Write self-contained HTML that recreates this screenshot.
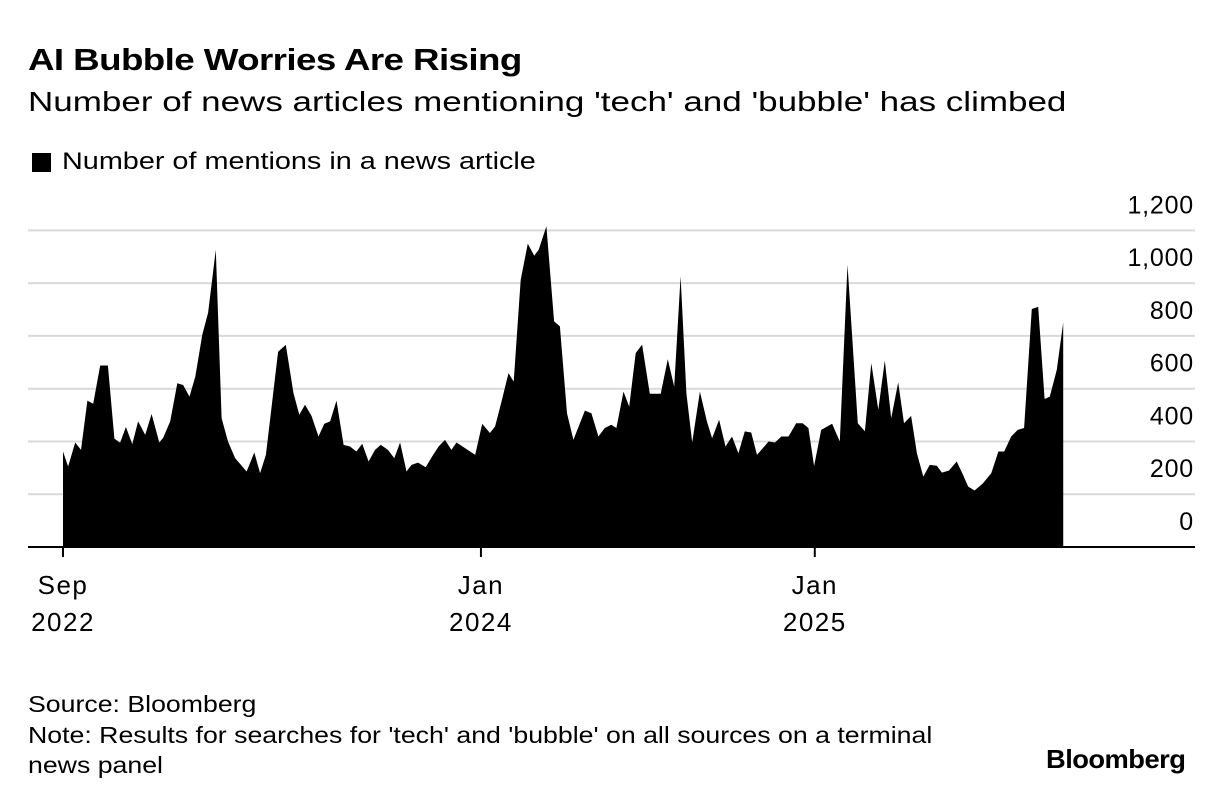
<!DOCTYPE html>
<html><head><meta charset="utf-8"><style>
body{margin:0;background:#fff;font-family:"Liberation Sans",sans-serif;color:#000}
#wrap{position:relative;width:1224px;height:802px;overflow:hidden}
.t{position:absolute;white-space:nowrap;transform-origin:0 0}
</style></head><body>
<div id="wrap">
<div class="t" style="left:28px;top:42px;font-size:31px;font-weight:bold;letter-spacing:-0.5px;transform:scaleX(1.185)">AI Bubble Worries Are Rising</div>
<div class="t" style="left:28px;top:86px;font-size:28px;transform:scaleX(1.25)">Number of news articles mentioning 'tech' and 'bubble' has climbed</div>
<div class="t" style="left:32px;top:153px;width:19px;height:19px;background:#000"></div>
<div class="t" style="left:62px;top:148px;font-size:24px;transform:scaleX(1.2)">Number of mentions in a news article</div>
<svg id="chart" width="1224" height="680" style="position:absolute;left:0;top:0"></svg>
<div class="t" style="left:28px;top:689px;font-size:23px;line-height:30.5px;transform:scaleX(1.16)">Source: Bloomberg<br>Note: Results for searches for 'tech' and 'bubble' on all sources on a terminal<br>news panel</div>
<div class="t" style="left:1046px;top:744px;font-size:26px;font-weight:bold;letter-spacing:-0.5px;transform:scaleX(1.05)">Bloomberg</div>
</div>
<script>
const weeks=[0,0.8,1.9,2.8,3.8,4.7,5.8,7.0,8.0,8.9,9.8,10.8,11.7,12.8,13.8,15.0,15.6,16.7,17.8,18.7,19.7,20.6,21.7,22.6,23.8,24.7,25.7,26.8,28.6,29.8,30.7,31.6,33.5,34.7,35.9,36.8,37.7,38.7,39.8,40.7,41.6,42.6,43.7,44.7,45.7,46.6,47.6,48.6,49.5,50.6,51.6,52.5,53.5,54.3,55.3,56.5,57.5,58.5,59.5,60.5,61.3,64.2,65.3,66.5,67.3,68.3,69.4,70.2,71.3,72.4,73.4,74.1,75.3,76.5,77.4,78.5,79.5,81.3,82.3,83.4,84.4,85.4,86.2,87.3,88.2,89.2,90.2,91.4,93.1,94.2,95.2,96.2,97.1,98.0,99.2,100.3,101.1,102.2,103.2,104.2,105.2,106.2,107.2,108.1,109.9,110.9,111.9,113.0,114.2,115.2,116.1,117.0,118.1,119.8,121.0,122.2,123.8,124.9,125.9,127.0,128.0,129.0,130.1,131.0,132.1,133.0,134.0,135.0,136.1,136.9,138.0,139.2,140.2,141.0,142.0,143.3,144.6,145.7,146.6,147.7,148.7,149.7,150.9,151.9,152.9,153.7,154.8,155.8];
const mentions=[362,305,396,368,555,543,688,688,411,395,455,390,476,425,504,396,414,476,621,614,570,646,805,888,1127,488,400,337,286,358,280,349,740,766,583,501,539,497,419,467,476,555,387,381,362,391,324,368,387,368,337,396,286,311,320,302,343,381,406,368,396,349,467,432,457,551,659,627,1013,1150,1104,1127,1216,855,836,507,406,517,507,419,451,463,451,589,532,735,767,581,581,712,608,1026,583,396,589,476,412,482,381,419,355,438,434,349,400,396,419,419,469,469,451,307,444,467,400,1070,469,438,697,520,707,488,624,469,497,355,267,311,308,282,290,324,273,229,214,242,280,362,362,419,444,451,902,910,561,570,672,851,678];
const yTicks=[0,200,400,600,800,1000,1200];
const yTickLabels=["0","200","400","600","800","1,000","1,200"];
const xTickWeeks=[0,65.1,117.1];
const xTickLabels=[["Sep","2022"],["Jan","2024"],["Jan","2025"]];

const svg=document.getElementById('chart');
const NS='http://www.w3.org/2000/svg';
const x=w=>63+w*6.42;
const y=v=>547-v*(316.6/1200);
function mk(t,a){const e=document.createElementNS(NS,t);for(const k in a)e.setAttribute(k,a[k]);svg.appendChild(e);return e;}
yTicks.forEach((v,i)=>{
  if(v>0){const g=mk('line',{x1:28,x2:1195,y1:y(v),y2:y(v),stroke:'#d9d9d9','stroke-width':2});
  
  }
  const t=mk('text',{x:1194,y:y(v)-17,'text-anchor':'end','font-size':25,'letter-spacing':0.8,'font-family':'Liberation Sans, sans-serif'});
  t.textContent=yTickLabels[i];
  
  
});
let d='M'+x(weeks[0])+','+y(0);
weeks.forEach((w,i)=>{d+=' L'+x(w).toFixed(1)+','+y(mentions[i]).toFixed(1);});
d+=' L'+x(weeks[weeks.length-1])+','+y(0)+' Z';
const area=mk('path',{d:d,fill:'#000'});


const base=mk('line',{x1:28,x2:1195,y1:y(0),y2:y(0),stroke:'#000','stroke-width':2});


xTickWeeks.forEach((w,i)=>{
  const tk=mk('line',{x1:x(w),x2:x(w),y1:y(0),y2:y(0)+10,stroke:'#000','stroke-width':2});
  
  
  xTickLabels[i].forEach((s,j)=>{
    const t=mk('text',{x:x(w),y:594+j*37,'text-anchor':'middle','font-size':26,'letter-spacing':1.5,'font-family':'Liberation Sans, sans-serif'});
    t.textContent=s;
    
    
  });
});
</script>
</body></html>
